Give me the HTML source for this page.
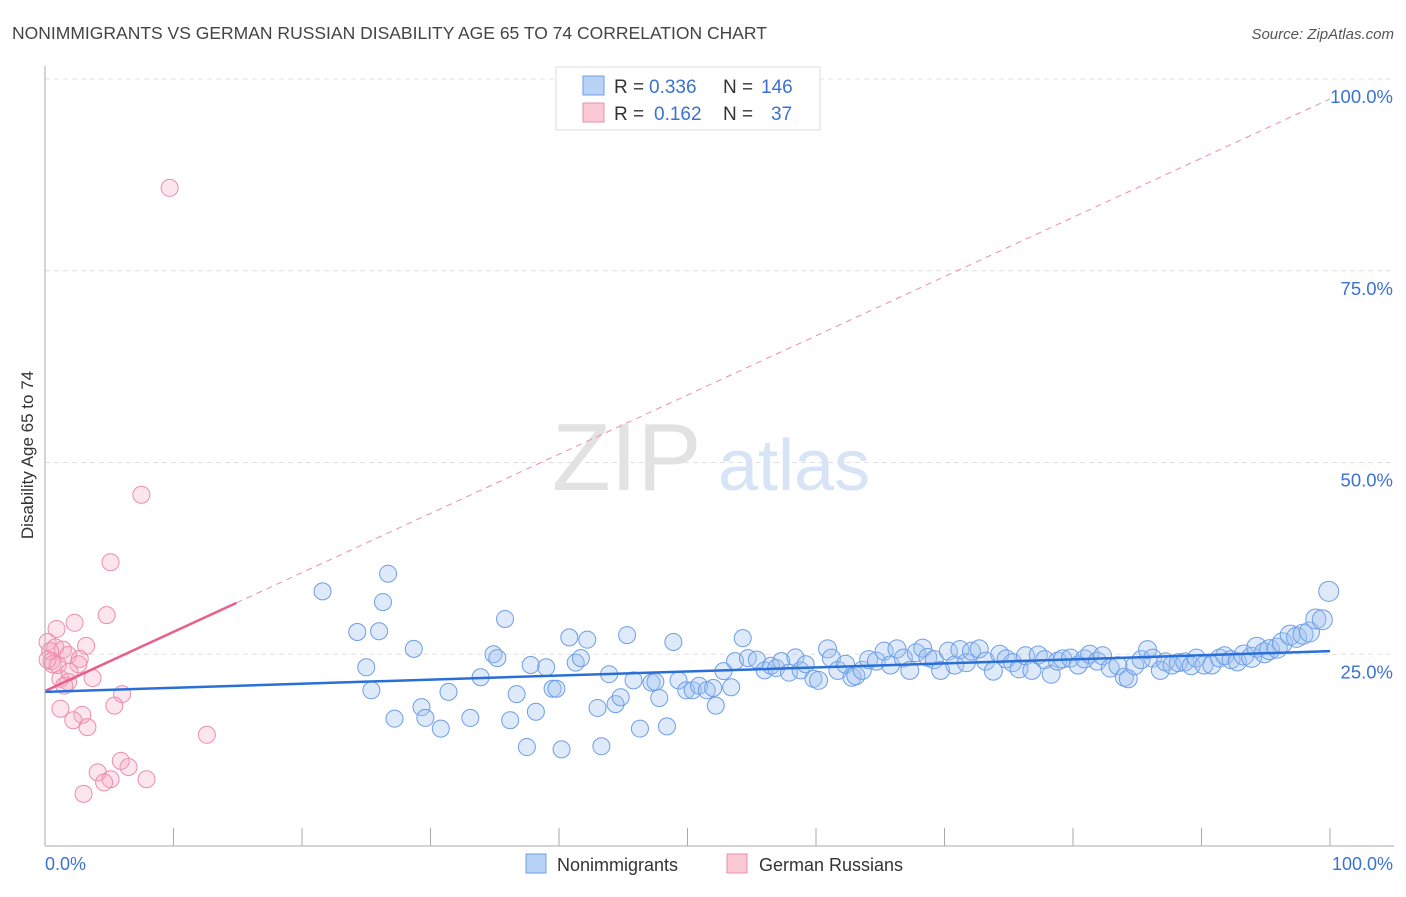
<!DOCTYPE html>
<html><head><meta charset="utf-8"><style>
body{margin:0;background:#fff;font-family:"Liberation Sans",sans-serif}
svg text{font-family:"Liberation Sans",sans-serif}
</style></head><body>
<svg id="c" width="1406" height="892">
<text x="12" y="39" font-size="17.5" fill="#444">NONIMMIGRANTS VS GERMAN RUSSIAN DISABILITY AGE 65 TO 74 CORRELATION CHART</text>
<text x="1394" y="39" font-size="15" fill="#555" font-style="italic" text-anchor="end">Source: ZipAtlas.com</text>
<g id="grid"></g>
<g><text x="552" y="490" font-family="Liberation Serif,serif" font-size="96" fill="#e2e2e2">ZIP</text><text x="718" y="490" font-size="72" fill="#d6e4f5">atlas</text></g>
<g id="pts"></g>
<g id="axes"></g>
<text transform="translate(33,455) rotate(-90)" font-size="17" fill="#333" text-anchor="middle">Disability Age 65 to 74</text>
<g>
<rect x="556" y="67" width="264" height="63" fill="#fff" stroke="#ddd"/>
<rect x="583" y="76" width="21" height="19" fill="#b8d3f5" stroke="#6d9ee6"/>
<rect x="583" y="103" width="21" height="19" fill="#fbc8d6" stroke="#ec8dab"/>
<text x="614" y="93" font-size="19" fill="#333">R =</text>
<text x="649" y="93" font-size="19" fill="#3a72d4">0.336</text>
<text x="723" y="93" font-size="19" fill="#333">N =</text>
<text x="761" y="93" font-size="19" fill="#3a72d4">146</text>
<text x="614" y="120" font-size="19" fill="#333">R =</text>
<text x="654" y="120" font-size="19" fill="#3a72d4">0.162</text>
<text x="723" y="120" font-size="19" fill="#333">N =</text>
<text x="771" y="120" font-size="19" fill="#3a72d4">37</text>
</g>
<g>
<rect x="526" y="854" width="20" height="19" fill="#b8d3f5" stroke="#6d9ee6"/>
<text x="557" y="871" font-size="18" fill="#333">Nonimmigrants</text>
<rect x="727" y="854" width="20" height="19" fill="#fbc8d6" stroke="#ec8dab"/>
<text x="759" y="871" font-size="18" fill="#333">German Russians</text>
</g>
</svg>
<script>
const blueX=[21.6,26.7,26.3,24.3,26.0,25.0,25.4,28.7,27.2,29.3,29.6,30.8,31.4,33.1,33.9,34.9,35.2,35.8,36.2,36.7,37.5,37.8,38.2,39.0,39.5,39.8,40.2,40.8,41.3,41.7,42.2,43.0,43.3,43.9,44.4,44.8,45.3,45.8,46.3,47.2,47.5,47.8,48.4,48.9,49.3,49.9,50.4,50.9,51.5,52.0,52.2,52.8,53.4,53.7,54.3,54.7,55.4,56.0,56.5,56.9,57.3,57.9,58.4,58.8,59.2,59.8,60.2,60.9,61.2,61.7,62.3,62.8,63.1,63.6,64.1,64.7,65.3,65.8,66.3,66.8,67.3,67.8,68.3,68.7,69.2,69.7,70.3,70.8,71.2,71.7,72.1,72.7,73.2,73.8,74.3,74.8,75.3,75.8,76.3,76.8,77.3,77.8,78.3,78.8,79.2,79.8,80.4,80.9,81.3,81.9,82.3,82.9,83.5,84.0,84.3,84.8,85.3,85.8,86.2,86.8,87.2,87.7,88.2,88.7,89.2,89.6,90.2,90.8,91.4,91.8,92.3,92.8,93.3,93.9,94.3,94.9,95.3,95.9,96.3,96.9,97.4,97.9,98.4,98.9,99.4,99.9];
const blueY=[33.2,35.5,31.8,27.9,28.0,23.3,20.3,25.7,16.6,18.1,16.7,15.3,20.1,16.7,22.0,25.0,24.5,29.6,16.4,19.8,12.9,23.6,17.5,23.3,20.5,20.5,12.6,27.2,23.9,24.5,26.9,18.0,13.0,22.4,18.5,19.4,27.5,21.6,15.3,21.3,21.4,19.3,15.6,26.6,21.6,20.3,20.3,20.9,20.3,20.6,18.3,22.8,20.7,24.1,27.1,24.5,24.3,22.9,23.5,23.2,24.1,22.6,24.6,22.9,23.7,21.8,21.6,25.7,24.5,22.9,23.7,22.0,22.2,22.9,24.3,24.1,25.4,23.6,25.7,24.5,22.9,25.2,25.8,24.6,24.3,22.9,25.4,23.6,25.6,23.9,25.4,25.7,24.1,22.8,25.0,24.4,23.9,23.1,24.8,22.9,24.9,24.3,22.4,24.1,24.4,24.5,23.6,24.4,25.0,24.1,24.8,23.2,23.5,22.0,21.8,23.5,24.3,25.6,24.5,22.9,24.0,23.6,23.9,24.0,23.5,24.5,23.6,23.6,24.5,24.8,24.3,24.0,24.9,24.6,25.9,25.2,25.6,25.8,26.5,27.5,27.2,27.6,27.9,29.6,29.5,33.2];
const pinkX=[9.7,7.5,5.1,4.8,2.3,0.9,0.2,0.8,3.2,1.4,0.4,1.8,2.7,0.5,2.6,3.7,1.2,1.8,1.5,6.0,1.2,5.4,2.9,2.2,3.3,12.6,5.9,4.1,6.5,5.1,4.6,7.9,3.0,0.6,0.2,1.0,1.9];
const pinkY=[85.8,45.8,37.0,30.1,29.1,28.3,26.6,25.9,26.1,25.6,25.4,24.9,24.4,24.1,23.7,21.9,21.8,21.4,20.9,19.8,17.9,18.3,17.1,16.4,15.5,14.5,11.1,9.6,10.3,8.7,8.3,8.7,6.8,23.7,24.3,23.6,22.7];
const blueTrend=[20.1,25.4];
const pinkTrend=[20.2,97.4];
const pinkSolidEnd=14.9;
const yTicks=[25,50,75,100];
const yTickLabels=["25.0%","50.0%","75.0%","100.0%"];
const xTicks=[0,10,20,30,40,50,60,70,80,90,100];
const NS="http://www.w3.org/2000/svg";
const X0=45,X1=1330,Y0=846,Y100=79;
const sx=v=>X0+(X1-X0)*v/100, sy=v=>Y0-(Y0-Y100)*v/100;
function mk(t,a,p){const e=document.createElementNS(NS,t);for(const k in a)e.setAttribute(k,a[k]);p.appendChild(e);return e;}
const grid=document.getElementById('grid'),axes=document.getElementById('axes'),pts=document.getElementById('pts');
yTicks.forEach((v,i)=>{
 const l=mk('line',{x1:X0,x2:1394,y1:sy(v),y2:sy(v),stroke:'#e0e0e0','stroke-dasharray':'5,4'},grid);
 
 
 const t=mk('text',{x:1393,y:sy(v)+24,'font-size':18.5,fill:'#3a72d4','text-anchor':'end'},axes);
 t.textContent=yTickLabels[i];
 
 
});
mk('line',{x1:X0,x2:X0,y1:66,y2:Y0,stroke:'#aaa'},axes);
mk('line',{x1:X0,x2:1394,y1:Y0,y2:Y0,stroke:'#aaa'},axes);
xTicks.forEach(v=>{const l=mk('line',{x1:sx(v),x2:sx(v),y1:828,y2:Y0,stroke:'#aaa'},axes);
 
 });
let t=mk('text',{x:45,y:870,'font-size':18,fill:'#3a72d4'},axes);t.textContent='0.0%';


t=mk('text',{x:1393,y:870,'font-size':18,fill:'#3a72d4','text-anchor':'end'},axes);t.textContent='100.0%';


pinkX.forEach((x,i)=>{const c=mk('circle',{cx:sx(x),cy:sy(pinkY[i]),r:8.5,fill:'rgba(248,170,195,0.3)',stroke:'#ec8dab','stroke-width':1},pts);
 
 });
blueX.forEach((x,i)=>{const r=x>93?10:(x>60?9:8.5);const c=mk('circle',{cx:sx(x),cy:sy(blueY[i]),r:r,fill:'rgba(160,195,240,0.35)',stroke:'#6d9ee6','stroke-width':1},pts);
 
 });
const py=v=>pinkTrend[0]+(pinkTrend[1]-pinkTrend[0])*v/100;
let l=mk('line',{x1:sx(pinkSolidEnd),y1:sy(py(pinkSolidEnd)),x2:sx(100),y2:sy(py(100)),stroke:'#ec8dab','stroke-dasharray':'6,5','stroke-width':1},pts);


l=mk('line',{x1:sx(0),y1:sy(py(0)),x2:sx(pinkSolidEnd),y2:sy(py(pinkSolidEnd)),stroke:'#e8608a','stroke-width':2.5},pts);


l=mk('line',{x1:sx(0),y1:sy(blueTrend[0]),x2:sx(100),y2:sy(blueTrend[1]),stroke:'#2a6fd6','stroke-width':2.5},pts);


</script>
</body></html>
